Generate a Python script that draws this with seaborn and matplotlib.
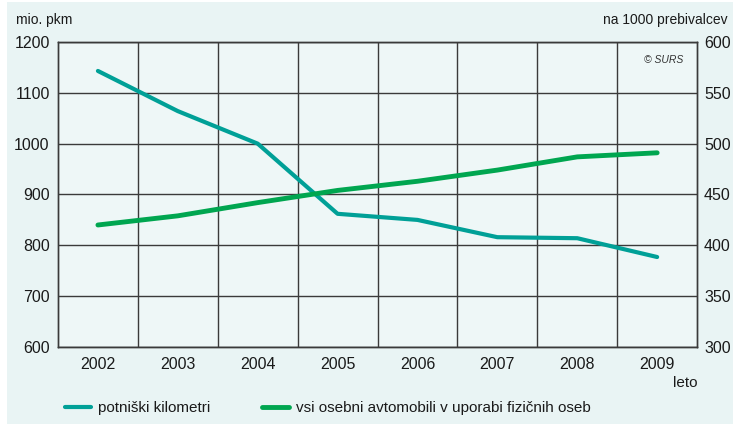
import matplotlib
matplotlib.use("Agg")
import matplotlib.pyplot as plt
import seaborn as sns
import pandas as pd

# data
years = [2002, 2003, 2004, 2005, 2006, 2007, 2008, 2009]
pkm = [1143, 1064, 1000, 862, 850, 816, 814, 777]
cars = [420, 429, 442, 454, 463, 474, 487, 491]
left_ticks = [600, 700, 800, 900, 1000, 1100, 1200]
right_ticks = [300, 350, 400, 450, 500, 550, 600]

df = pd.DataFrame({"leto": years, "pkm": pkm, "cars": cars})

sns.set_style("white")
plt.rcParams['font.family'] = ['Liberation Sans', 'DejaVu Sans']

teal = "#00a097"
green = "#00a650"
bg = "#e9f4f4"
grid_c = "#3a3a3a"
txt = "#1a1a1a"

fig = plt.figure(figsize=(7.33, 4.24), dpi=100)
fig.patch.set_facecolor("white")
# light panel behind everything
fig.patches.append(plt.Rectangle((0.009, 0.0), 0.991, 0.995, transform=fig.transFigure,
                                 facecolor=bg, edgecolor="none", zorder=-10))

ax = fig.add_axes([0.0791, 0.1816, 0.8719, 0.7194])
ax.set_facecolor("#eef7f7")
ax2 = ax.twinx()

sns.lineplot(data=df, x="leto", y="pkm", ax=ax, color=teal, linewidth=3,
             label="potniški kilometri", legend=False)
sns.lineplot(data=df, x="leto", y="cars", ax=ax2, color=green, linewidth=3.5,
             label="vsi osebni avtomobili v uporabi fizičnih oseb", legend=False)

ax.set_xlim(2001.5, 2009.5)
ax.set_ylim(600, 1200)
ax2.set_ylim(300, 600)
ax.set_yticks(left_ticks)
ax2.set_yticks(right_ticks)
ax.set_xticks(years)
ax.set_xticks([y + 0.5 for y in years[:-1]], minor=True)

ax.grid(True, which="major", axis="y", color=grid_c, linewidth=1)
ax.grid(True, which="minor", axis="x", color=grid_c, linewidth=1)
ax.grid(False, which="major", axis="x")
ax.set_axisbelow(True)

for a in (ax, ax2):
    for s in a.spines.values():
        s.set_color(grid_c)
        s.set_linewidth(1)
    a.tick_params(length=0, labelsize=11.5, colors=txt)
ax.tick_params(axis="x", pad=7)
ax.tick_params(axis="y", pad=6)
ax2.tick_params(axis="y", pad=5)
ax.tick_params(which="minor", length=0)

ax.set_xlabel("")
ax.set_ylabel("")
ax2.set_ylabel("")

fig.text(0.022, 0.953, "mio. pkm", fontsize=10, color=txt, va="center")
fig.text(0.992, 0.953, "na 1000 prebivalcev", fontsize=10, color=txt,
         ha="right", va="center")
fig.text(0.932, 0.858, "© SURS", fontsize=7.5, style="italic", color="#333333",
         ha="right", va="center")
fig.text(0.951, 0.097, "leto", fontsize=11, color=txt, ha="right", va="center")

handles = ax.get_lines() + ax2.get_lines()
labels = ["potniški kilometri", "vsi osebni avtomobili v uporabi fizičnih oseb"]
leg = fig.legend(handles, labels, loc="center left", bbox_to_anchor=(0.088, 0.038),
                 ncol=2, frameon=False, fontsize=11, handlelength=1.75,
                 columnspacing=3.4, handletextpad=0.45, borderpad=0, borderaxespad=0)
for t in leg.get_texts():
    t.set_color(txt)

fig.savefig("out.png", dpi=100, facecolor=fig.get_facecolor())
